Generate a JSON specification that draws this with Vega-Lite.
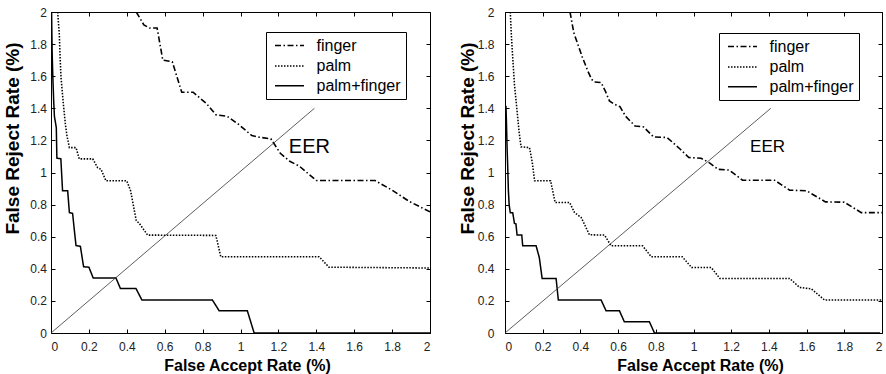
{
  "$schema": "https://vega.github.io/schema/vega-lite/v6.json",
  "padding": {"left": 2, "top": 5, "right": 0, "bottom": 0},
  "spacing": 26,
  "background": "white",
  "config": {
    "font": "Liberation Sans",
    "view": {"stroke": "black", "strokeWidth": 1},
    "axis": {
      "grid": false,
      "domain": false,
      "tickColor": "black",
      "tickSize": -4,
      "labelFont": "Liberation Sans",
      "labelFontSize": 12,
      "labelColor": "#222",
      "titleFont": "Liberation Sans",
      "titleFontWeight": "bold",
      "titleColor": "black"
    },
    "legend": {
      "orient": "none",
      "title": "\u00a0",
      "titleOrient": "right",
      "titleFontSize": 16,
      "titlePadding": 9,
      "strokeColor": "black",
      "fillColor": "white",
      "padding": 5,
      "symbolOffset": 10,
      "symbolType": "M-2,0H2",
      "symbolSize": 210,
      "symbolStrokeColor": "black",
      "labelFont": "Liberation Sans",
      "labelFontSize": 16,
      "labelColor": "black",
      "labelOffset": 18.5,
      "rowPadding": 3.4
    }
  },
  "datasets": {
    "left": [
      {"s": "finger", "x": 0.45, "y": 2.0}, {"s": "finger", "x": 0.49, "y": 1.92}, {"s": "finger", "x": 0.52, "y": 1.9}, {"s": "finger", "x": 0.56, "y": 1.9}, {"s": "finger", "x": 0.59, "y": 1.7}, {"s": "finger", "x": 0.64, "y": 1.69}, {"s": "finger", "x": 0.69, "y": 1.5}, {"s": "finger", "x": 0.75, "y": 1.5}, {"s": "finger", "x": 0.82, "y": 1.43}, {"s": "finger", "x": 0.87, "y": 1.36}, {"s": "finger", "x": 0.93, "y": 1.35}, {"s": "finger", "x": 0.99, "y": 1.3}, {"s": "finger", "x": 1.06, "y": 1.23}, {"s": "finger", "x": 1.1, "y": 1.22}, {"s": "finger", "x": 1.16, "y": 1.21}, {"s": "finger", "x": 1.21, "y": 1.12}, {"s": "finger", "x": 1.26, "y": 1.07}, {"s": "finger", "x": 1.31, "y": 1.04}, {"s": "finger", "x": 1.4, "y": 0.95}, {"s": "finger", "x": 1.71, "y": 0.95}, {"s": "finger", "x": 1.8, "y": 0.89}, {"s": "finger", "x": 1.89, "y": 0.82}, {"s": "finger", "x": 2.0, "y": 0.755},
      {"s": "palm", "x": 0.035, "y": 2.0}, {"s": "palm", "x": 0.044, "y": 1.86}, {"s": "palm", "x": 0.048, "y": 1.72}, {"s": "palm", "x": 0.053, "y": 1.59}, {"s": "palm", "x": 0.065, "y": 1.43}, {"s": "palm", "x": 0.076, "y": 1.3}, {"s": "palm", "x": 0.084, "y": 1.23}, {"s": "palm", "x": 0.097, "y": 1.155}, {"s": "palm", "x": 0.132, "y": 1.155}, {"s": "palm", "x": 0.149, "y": 1.085}, {"s": "palm", "x": 0.22, "y": 1.085}, {"s": "palm", "x": 0.246, "y": 1.03}, {"s": "palm", "x": 0.264, "y": 1.02}, {"s": "palm", "x": 0.29, "y": 0.948}, {"s": "palm", "x": 0.4, "y": 0.948}, {"s": "palm", "x": 0.42, "y": 0.886}, {"s": "palm", "x": 0.45, "y": 0.7}, {"s": "palm", "x": 0.466, "y": 0.683}, {"s": "palm", "x": 0.51, "y": 0.61}, {"s": "palm", "x": 0.87, "y": 0.608}, {"s": "palm", "x": 0.896, "y": 0.475}, {"s": "palm", "x": 1.415, "y": 0.475}, {"s": "palm", "x": 1.467, "y": 0.41}, {"s": "palm", "x": 2.0, "y": 0.405},
      {"s": "palm+finger", "x": 0.003, "y": 2.0}, {"s": "palm+finger", "x": 0.006, "y": 1.75}, {"s": "palm+finger", "x": 0.009, "y": 1.62}, {"s": "palm+finger", "x": 0.014, "y": 1.45}, {"s": "palm+finger", "x": 0.018, "y": 1.35}, {"s": "palm+finger", "x": 0.028, "y": 1.28}, {"s": "palm+finger", "x": 0.031, "y": 1.09}, {"s": "palm+finger", "x": 0.052, "y": 1.085}, {"s": "palm+finger", "x": 0.061, "y": 0.886}, {"s": "palm+finger", "x": 0.088, "y": 0.886}, {"s": "palm+finger", "x": 0.097, "y": 0.75}, {"s": "palm+finger", "x": 0.114, "y": 0.745}, {"s": "palm+finger", "x": 0.125, "y": 0.62}, {"s": "palm+finger", "x": 0.132, "y": 0.545}, {"s": "palm+finger", "x": 0.155, "y": 0.54}, {"s": "palm+finger", "x": 0.172, "y": 0.413}, {"s": "palm+finger", "x": 0.2, "y": 0.41}, {"s": "palm+finger", "x": 0.223, "y": 0.342}, {"s": "palm+finger", "x": 0.343, "y": 0.342}, {"s": "palm+finger", "x": 0.366, "y": 0.278}, {"s": "palm+finger", "x": 0.448, "y": 0.278}, {"s": "palm+finger", "x": 0.48, "y": 0.205}, {"s": "palm+finger", "x": 0.852, "y": 0.205}, {"s": "palm+finger", "x": 0.887, "y": 0.139}, {"s": "palm+finger", "x": 1.036, "y": 0.139}, {"s": "palm+finger", "x": 1.072, "y": 0.0}, {"s": "palm+finger", "x": 2.0, "y": 0.0}
    ],
    "right": [
      {"s": "finger", "x": 0.345, "y": 2.0}, {"s": "finger", "x": 0.365, "y": 1.87}, {"s": "finger", "x": 0.386, "y": 1.8}, {"s": "finger", "x": 0.41, "y": 1.72}, {"s": "finger", "x": 0.439, "y": 1.633}, {"s": "finger", "x": 0.46, "y": 1.58}, {"s": "finger", "x": 0.475, "y": 1.564}, {"s": "finger", "x": 0.51, "y": 1.56}, {"s": "finger", "x": 0.535, "y": 1.5}, {"s": "finger", "x": 0.554, "y": 1.446}, {"s": "finger", "x": 0.581, "y": 1.425}, {"s": "finger", "x": 0.61, "y": 1.41}, {"s": "finger", "x": 0.64, "y": 1.35}, {"s": "finger", "x": 0.69, "y": 1.29}, {"s": "finger", "x": 0.735, "y": 1.284}, {"s": "finger", "x": 0.788, "y": 1.222}, {"s": "finger", "x": 0.86, "y": 1.218}, {"s": "finger", "x": 0.93, "y": 1.145}, {"s": "finger", "x": 0.975, "y": 1.093}, {"s": "finger", "x": 1.04, "y": 1.089}, {"s": "finger", "x": 1.085, "y": 1.06}, {"s": "finger", "x": 1.13, "y": 1.02}, {"s": "finger", "x": 1.19, "y": 1.015}, {"s": "finger", "x": 1.26, "y": 0.952}, {"s": "finger", "x": 1.43, "y": 0.952}, {"s": "finger", "x": 1.51, "y": 0.89}, {"s": "finger", "x": 1.6, "y": 0.886}, {"s": "finger", "x": 1.7, "y": 0.817}, {"s": "finger", "x": 1.8, "y": 0.815}, {"s": "finger", "x": 1.89, "y": 0.75}, {"s": "finger", "x": 2.0, "y": 0.75},
      {"s": "palm", "x": 0.028, "y": 2.0}, {"s": "palm", "x": 0.034, "y": 1.85}, {"s": "palm", "x": 0.041, "y": 1.716}, {"s": "palm", "x": 0.05, "y": 1.55}, {"s": "palm", "x": 0.064, "y": 1.384}, {"s": "palm", "x": 0.075, "y": 1.25}, {"s": "palm", "x": 0.085, "y": 1.16}, {"s": "palm", "x": 0.13, "y": 1.155}, {"s": "palm", "x": 0.145, "y": 1.06}, {"s": "palm", "x": 0.157, "y": 0.948}, {"s": "palm", "x": 0.242, "y": 0.948}, {"s": "palm", "x": 0.266, "y": 0.813}, {"s": "palm", "x": 0.343, "y": 0.813}, {"s": "palm", "x": 0.369, "y": 0.75}, {"s": "palm", "x": 0.404, "y": 0.72}, {"s": "palm", "x": 0.448, "y": 0.612}, {"s": "palm", "x": 0.528, "y": 0.61}, {"s": "palm", "x": 0.563, "y": 0.543}, {"s": "palm", "x": 0.73, "y": 0.543}, {"s": "palm", "x": 0.776, "y": 0.475}, {"s": "palm", "x": 0.94, "y": 0.475}, {"s": "palm", "x": 0.99, "y": 0.408}, {"s": "palm", "x": 1.094, "y": 0.408}, {"s": "palm", "x": 1.14, "y": 0.34}, {"s": "palm", "x": 1.51, "y": 0.34}, {"s": "palm", "x": 1.563, "y": 0.284}, {"s": "palm", "x": 1.625, "y": 0.275}, {"s": "palm", "x": 1.696, "y": 0.205}, {"s": "palm", "x": 2.0, "y": 0.205},
      {"s": "palm+finger", "x": 0.005, "y": 1.415}, {"s": "palm+finger", "x": 0.008, "y": 1.3}, {"s": "palm+finger", "x": 0.011, "y": 1.155}, {"s": "palm+finger", "x": 0.014, "y": 1.05}, {"s": "palm+finger", "x": 0.018, "y": 0.886}, {"s": "palm+finger", "x": 0.022, "y": 0.8}, {"s": "palm+finger", "x": 0.028, "y": 0.75}, {"s": "palm+finger", "x": 0.041, "y": 0.75}, {"s": "palm+finger", "x": 0.05, "y": 0.683}, {"s": "palm+finger", "x": 0.058, "y": 0.68}, {"s": "palm+finger", "x": 0.064, "y": 0.61}, {"s": "palm+finger", "x": 0.089, "y": 0.61}, {"s": "palm+finger", "x": 0.094, "y": 0.543}, {"s": "palm+finger", "x": 0.165, "y": 0.543}, {"s": "palm+finger", "x": 0.182, "y": 0.47}, {"s": "palm+finger", "x": 0.197, "y": 0.34}, {"s": "palm+finger", "x": 0.271, "y": 0.34}, {"s": "palm+finger", "x": 0.283, "y": 0.205}, {"s": "palm+finger", "x": 0.51, "y": 0.205}, {"s": "palm+finger", "x": 0.536, "y": 0.139}, {"s": "palm+finger", "x": 0.607, "y": 0.139}, {"s": "palm+finger", "x": 0.633, "y": 0.07}, {"s": "palm+finger", "x": 0.766, "y": 0.07}, {"s": "palm+finger", "x": 0.793, "y": 0.0}, {"s": "palm+finger", "x": 1.99, "y": 0.0}
    ],
    "eerLeft": [{"x": 0, "y": 0}, {"x": 1.39, "y": 1.4}],
    "eerRight": [{"x": 0, "y": 0}, {"x": 1.41, "y": 1.4}],
    "labelLeft": [{"x": 1.255, "y": 1.16, "t": "EER"}],
    "labelRight": [{"x": 1.3, "y": 1.16, "t": "EER"}]
  },
  "hconcat": [
    {
      "width": 379,
      "height": 321,
      "layer": [
        {
          "data": {"name": "left"},
          "mark": {"type": "line", "clip": true, "color": "black", "strokeCap": "butt"},
          "encoding": {
            "x": {"field": "x", "type": "quantitative", "scale": {"domain": [0, 2], "nice": false, "zero": false},
              "axis": {"orient": "bottom", "values": [0, 0.2, 0.4, 0.6, 0.8, 1, 1.2, 1.4, 1.6, 1.8, 2], "format": "~g", "labelPadding": 12, "title": "False Accept Rate (%)", "titleFontSize": 16, "titlePadding": 5, "titleX": 196}},
            "y": {"field": "y", "type": "quantitative", "scale": {"domain": [0, 2], "nice": false, "zero": false},
              "axis": {"orient": "left", "values": [0, 0.2, 0.4, 0.6, 0.8, 1, 1.2, 1.4, 1.6, 1.8, 2], "format": "~g", "labelPadding": 8.5, "title": "False Reject Rate (%)", "titleFontSize": 19, "titleX": -29, "titleY": 126}},
            "strokeDash": {"field": "s", "type": "nominal", "scale": {"domain": ["finger", "palm", "palm+finger"], "range": [[6, 2.5, 1.5, 2.5], [1.5, 1.5], [1, 0]]},
              "legend": {"legendX": 215, "legendY": 20}},
            "strokeWidth": {"field": "s", "type": "nominal", "scale": {"domain": ["finger", "palm", "palm+finger"], "range": [1.6, 1.5, 2]},
              "legend": {"legendX": 215, "legendY": 20}},
            "order": {"value": null}
          }
        },
        {
          "data": {"name": "eerLeft"},
          "mark": {"type": "line", "color": "#333", "strokeWidth": 0.8},
          "encoding": {
            "x": {"field": "x", "type": "quantitative", "axis": {"orient": "top", "values": [0, 0.2, 0.4, 0.6, 0.8, 1, 1.2, 1.4, 1.6, 1.8, 2], "labels": false, "title": null}},
            "y": {"field": "y", "type": "quantitative", "axis": {"orient": "right", "values": [0, 0.2, 0.4, 0.6, 0.8, 1, 1.2, 1.4, 1.6, 1.8, 2], "labels": false, "title": null}},
            "order": {"value": null}
          }
        },
        {
          "data": {"name": "labelLeft"},
          "mark": {"type": "text", "align": "left", "baseline": "middle", "fontSize": 20, "color": "black"},
          "encoding": {
            "x": {"field": "x", "type": "quantitative", "axis": null},
            "y": {"field": "y", "type": "quantitative", "axis": null},
            "text": {"field": "t"}
          }
        }
      ],
      "resolve": {"axis": {"x": "independent", "y": "independent"}}
    },
    {
      "width": 377,
      "height": 321,
      "layer": [
        {
          "data": {"name": "right"},
          "mark": {"type": "line", "clip": true, "color": "black", "strokeCap": "butt"},
          "encoding": {
            "x": {"field": "x", "type": "quantitative", "scale": {"domain": [0, 2], "nice": false, "zero": false},
              "axis": {"orient": "bottom", "values": [0, 0.2, 0.4, 0.6, 0.8, 1, 1.2, 1.4, 1.6, 1.8, 2], "format": "~g", "labelPadding": 12, "title": "False Accept Rate (%)", "titleFontSize": 16, "titlePadding": 5, "titleX": 195}},
            "y": {"field": "y", "type": "quantitative", "scale": {"domain": [0, 2], "nice": false, "zero": false},
              "axis": {"orient": "left", "values": [0, 0.2, 0.4, 0.6, 0.8, 1, 1.2, 1.4, 1.6, 1.8, 2], "format": "~g", "labelPadding": 15, "title": "False Reject Rate (%)", "titleFontSize": 19, "titleX": -27.5, "titleY": 126}},
            "strokeDash": {"field": "s", "type": "nominal", "scale": {"domain": ["finger", "palm", "palm+finger"], "range": [[6, 2.5, 1.5, 2.5], [1.5, 1.5], [1, 0]]},
              "legend": {"legendX": 214, "legendY": 21}},
            "strokeWidth": {"field": "s", "type": "nominal", "scale": {"domain": ["finger", "palm", "palm+finger"], "range": [1.6, 1.5, 2]},
              "legend": {"legendX": 214, "legendY": 21}},
            "order": {"value": null}
          }
        },
        {
          "data": {"name": "eerRight"},
          "mark": {"type": "line", "color": "#333", "strokeWidth": 0.8},
          "encoding": {
            "x": {"field": "x", "type": "quantitative", "axis": {"orient": "top", "values": [0, 0.2, 0.4, 0.6, 0.8, 1, 1.2, 1.4, 1.6, 1.8, 2], "labels": false, "title": null}},
            "y": {"field": "y", "type": "quantitative", "axis": {"orient": "right", "values": [0, 0.2, 0.4, 0.6, 0.8, 1, 1.2, 1.4, 1.6, 1.8, 2], "labels": false, "title": null}},
            "order": {"value": null}
          }
        },
        {
          "data": {"name": "labelRight"},
          "mark": {"type": "text", "align": "left", "baseline": "middle", "fontSize": 17, "color": "black"},
          "encoding": {
            "x": {"field": "x", "type": "quantitative", "axis": null},
            "y": {"field": "y", "type": "quantitative", "axis": null},
            "text": {"field": "t"}
          }
        }
      ],
      "resolve": {"axis": {"x": "independent", "y": "independent"}}
    }
  ],
  "resolve": {"scale": {"strokeDash": "independent", "strokeWidth": "independent"}}
}
